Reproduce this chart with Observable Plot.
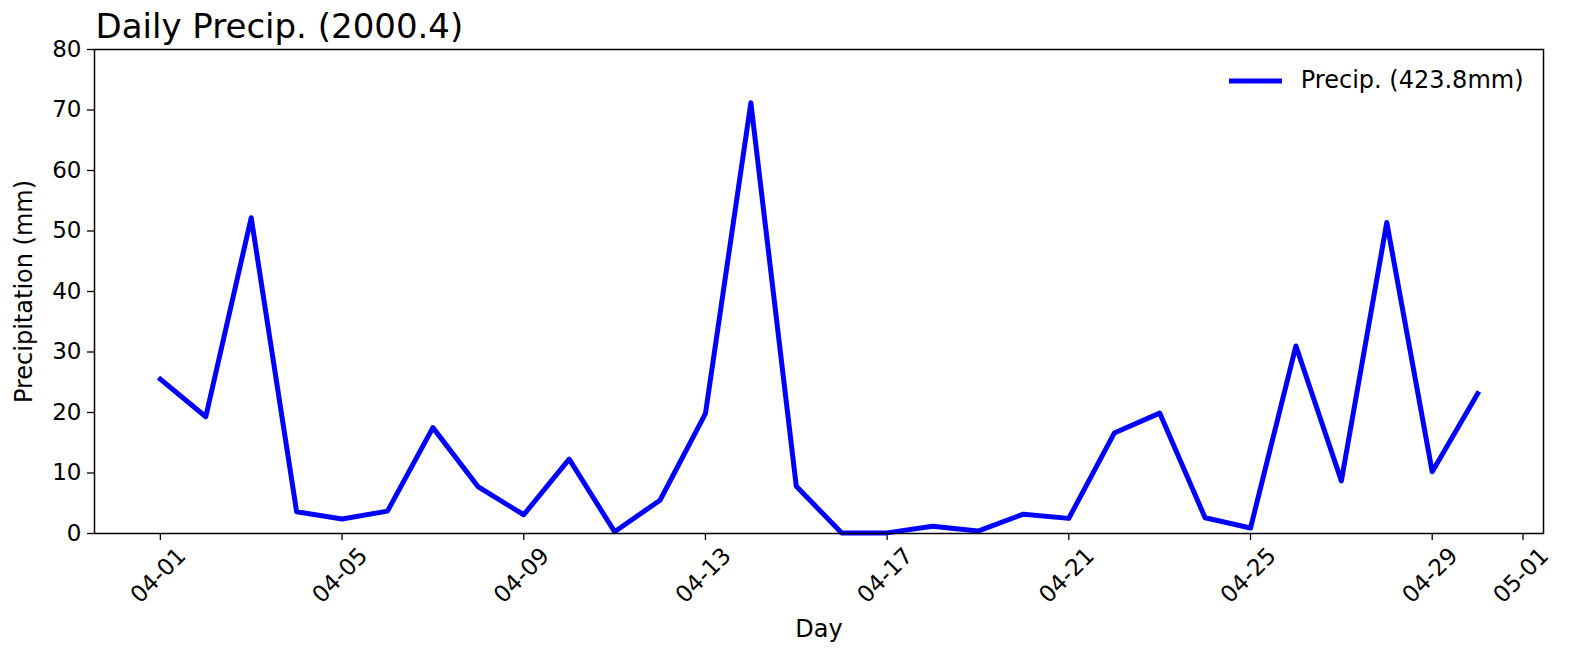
<!DOCTYPE html>
<html>
<head>
<meta charset="utf-8">
<script src="https://cdn.jsdelivr.net/npm/d3@7"></script>
<script src="https://cdn.jsdelivr.net/npm/@observablehq/plot@0.6"></script>
<style>
  html, body { margin: 0; padding: 0; background: #fff; }
  #chart svg { display: block; }
</style>
</head>
<body>
<div id="chart"></div>
<script>
const days = [
  "2000-04-01","2000-04-02","2000-04-03","2000-04-04","2000-04-05","2000-04-06",
  "2000-04-07","2000-04-08","2000-04-09","2000-04-10","2000-04-11","2000-04-12",
  "2000-04-13","2000-04-14","2000-04-15","2000-04-16","2000-04-17","2000-04-18",
  "2000-04-19","2000-04-20","2000-04-21","2000-04-22","2000-04-23","2000-04-24",
  "2000-04-25","2000-04-26","2000-04-27","2000-04-28","2000-04-29","2000-04-30"
];
const precip = [
  25.5, 19.3, 52.2, 3.6, 2.4, 3.7, 17.5, 7.7, 3.1, 12.3,
  0.3, 5.5, 19.8, 71.2, 7.8, 0.1, 0.1, 1.2, 0.4, 3.2,
  2.5, 16.6, 19.9, 2.6, 0.9, 31.0, 8.7, 51.4, 10.2, 23.1
];
const xTickDates = ["2000-04-01","2000-04-05","2000-04-09","2000-04-13","2000-04-17","2000-04-21","2000-04-25","2000-04-29","2000-05-01"];
const xTickLabels = ["04-01","04-05","04-09","04-13","04-17","04-21","04-25","04-29","05-01"];
const yTicks = [0, 10, 20, 30, 40, 50, 60, 70, 80];

const titleText = "Daily Precip. (2000.4)";
const xLabel = "Day";
const yLabel = "Precipitation (mm)";

const data = days.map((d, i) => ({date: new Date(d + "T00:00:00Z"), value: precip[i]}));
const ticks = xTickDates.map((d, i) => ({date: new Date(d + "T00:00:00Z"), label: xTickLabels[i]}));
const total = d3.sum(precip);
const legendLabel = `Precip. (${total.toFixed(1)}mm)`;

const first = data[0].date.getTime(), last = data[data.length - 1].date.getTime();
const pad = (last - first) * 0.05;

const W = 1571, H = 656;
const mL = 94, mR = 28, mT = 49, mB = 123;
const font = "DejaVu Sans, Liberation Sans, sans-serif";

const chart = Plot.plot({
  width: W,
  height: H,
  marginLeft: mL,
  marginRight: mR,
  marginTop: mT,
  marginBottom: mB,
  style: {fontFamily: font, background: "#fff", color: "#000", overflow: "visible"},
  x: {type: "utc", domain: [new Date(first - pad), new Date(last + pad)]},
  y: {domain: [0, 80]},
  marks: [
    Plot.axisY({ticks: yTicks, tickSize: 7, tickPadding: 6, fontSize: 23, label: null, stroke: "#000", strokeWidth: 1.3}),
    Plot.axisX({ticks: ticks.map(t => t.date), tickSize: 7, tickFormat: () => "", label: null, stroke: "#000", strokeWidth: 1.3}),
    Plot.text(ticks, {x: "date", text: "label", frameAnchor: "bottom", dy: 42, dx: -2, rotate: -45, textAnchor: "middle", lineAnchor: "middle", fontSize: 23, fill: "#000"}),
    Plot.line(data, {x: "date", y: "value", stroke: "#0000ff", strokeWidth: 5, strokeLinejoin: "round", strokeLinecap: "square"}),
    Plot.frame({stroke: "#000", strokeWidth: 1.5}),
    Plot.text([titleText], {frameAnchor: "top-left", dy: -12, dx: 1, textAnchor: "start", lineAnchor: "bottom", fontSize: 34, fill: "#000"}),
    Plot.text([xLabel], {frameAnchor: "bottom", dy: 96, textAnchor: "middle", lineAnchor: "middle", fontSize: 24, fill: "#000"}),
    Plot.text([yLabel], {frameAnchor: "left", dx: -70, rotate: -90, textAnchor: "middle", lineAnchor: "middle", fontSize: 24, fill: "#000"}),
    Plot.text([legendLabel], {frameAnchor: "top-right", dx: -20, dy: 31, textAnchor: "end", lineAnchor: "middle", fontSize: 24, fill: "#000"})
  ]
});

// legend swatch
const svg = d3.select(chart);
svg.append("line")
  .attr("x1", W - mR - 314).attr("x2", W - mR - 261)
  .attr("y1", mT + 32).attr("y2", mT + 32)
  .attr("stroke", "#0000ff").attr("stroke-width", 5);

document.getElementById("chart").appendChild(chart);
</script>
</body>
</html>
